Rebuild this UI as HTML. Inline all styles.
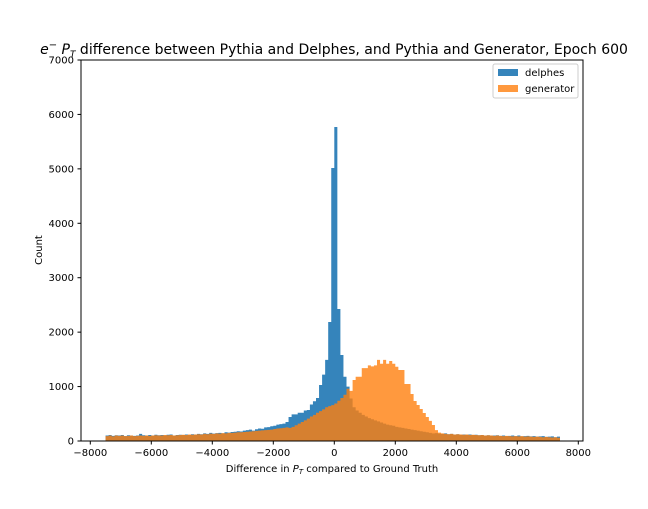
<!DOCTYPE html>
<html><head><meta charset="utf-8"><style>
body{margin:0;background:#fff;}
svg text{font-family:"DejaVu Sans","Liberation Sans",sans-serif;fill:#000;}
</style></head><body>
<svg id="chart" width="648" height="504" xmlns="http://www.w3.org/2000/svg">
<rect width="648" height="504" fill="#fff"/>
<text x="334" y="54" font-size="14" text-anchor="middle"><tspan font-style="italic">e</tspan><tspan font-size="10" dy="-6">−</tspan><tspan dy="6" font-style="italic"> P</tspan><tspan font-size="9" font-style="italic" dy="3">T</tspan><tspan dy="-3"> difference between Pythia and Delphes, and Pythia and Generator, Epoch 600</tspan></text>
<g id="bars"></g>
<rect x="81" y="60" width="502" height="381" fill="none" stroke="#000" stroke-width="1"/>
<g id="axes"></g>
<text x="332" y="472" font-size="10" text-anchor="middle">Difference in <tspan font-style="italic">P</tspan><tspan font-size="7" font-style="italic" dy="2">T</tspan><tspan dy="-2"> compared to Ground Truth</tspan></text>
<text transform="translate(42,250) rotate(-90)" font-size="10" text-anchor="middle">Count</text>
<g>
<rect x="493" y="64" width="85" height="34" fill="#fff" stroke="#ccc" rx="2"/>
<rect x="498" y="69" width="20" height="7" fill="#1f77b4" fill-opacity="0.9"/>
<text x="525" y="76" font-size="10">delphes</text>
<rect x="498" y="85" width="20" height="7" fill="#ff7f0e" fill-opacity="0.8"/>
<text x="525" y="92" font-size="10">generator</text>
</g>
</svg>
<script>
const binStart = -7500;
const binWidth = 100;
const delphes = [100,110,95,105,100,110,90,105,100,95,100,130,105,100,110,
100,115,105,110,100,115,120,100,110,115,110,120,110,125,120,
130,125,140,130,150,135,145,150,140,160,155,165,170,180,175,
190,200,210,190,215,230,225,250,255,270,280,300,310,320,350,
440,490,490,520,520,560,570,670,730,790,1030,1220,1490,2186,5015,
5770,2425,1580,1180,1000,780,620,560,520,480,450,420,400,380,360,
340,320,300,290,280,260,250,240,230,220,210,200,190,180,170,
160,150,140,145,135,130,140,125,130,120,125,115,120,115,120,
110,115,105,110,100,105,100,100,105,95,100,90,95,100,90,
100,85,90,95,85,90,80,85,90,75,80,85,70,80];
const generator = [90,100,85,100,95,100,90,95,100,90,95,100,95,100,95,
100,105,100,100,110,105,110,100,105,110,115,110,120,115,120,
125,120,130,125,135,130,140,135,145,140,150,150,155,160,160,
165,170,175,180,185,190,195,200,205,210,220,230,235,240,250,
240,260,290,320,350,380,410,450,480,520,550,580,620,640,660,
690,740,790,850,960,920,1120,1180,1180,1340,1340,1390,1370,1390,1490,
1420,1490,1420,1470,1420,1365,1304,1304,1047,1047,863,735,661,588,514,
440,370,294,200,153,140,130,125,130,120,125,120,115,120,110,
115,110,105,110,100,105,100,95,100,95,90,95,90,85,90,
85,90,80,85,80,75,80,75,70,75,70,65,70,60];
const xTicks = [-8000,-6000,-4000,-2000,0,2000,4000,6000,8000];
const yTicks = [0,1000,2000,3000,4000,5000,6000,7000];

const NS="http://www.w3.org/2000/svg";
const X = v => 334.3 + v*0.0305;
const Y = v => 441 - v*(381/7000);
const bars=document.getElementById('bars');
function series(arr,color,op,name){
  let d='M'+X(binStart)+' 441';
  arr.forEach((v,i)=>{
    const x0=X(binStart+i*binWidth), x1=X(binStart+(i+1)*binWidth);
    d+=' L'+x0+' '+Y(v)+' L'+x1+' '+Y(v);
  });
  d+=' L'+X(binStart+arr.length*binWidth)+' 441 Z';
  const p=document.createElementNS(NS,'path');
  p.setAttribute('d',d);
  p.setAttribute('fill',color);p.setAttribute('fill-opacity',op);
  
  
  bars.appendChild(p);
}
series(delphes,'#1f77b4',0.9,'delphes');
series(generator,'#ff7f0e',0.8,'generator');
const ax=document.getElementById('axes');
xTicks.forEach(t=>{
  const x=X(t);
  const l=document.createElementNS(NS,'line');
  l.setAttribute('x1',x);l.setAttribute('x2',x);l.setAttribute('y1',441);l.setAttribute('y2',444.5);l.setAttribute('stroke','#000');
  
  
  ax.appendChild(l);
  const tx=document.createElementNS(NS,'text');
  tx.setAttribute('x',x);tx.setAttribute('y',456);tx.setAttribute('font-size','10');tx.setAttribute('text-anchor','middle');
  tx.textContent=(t<0?'−':'')+Math.abs(t);
  
  
  ax.appendChild(tx);
});
yTicks.forEach(t=>{
  const y=Y(t);
  const l=document.createElementNS(NS,'line');
  l.setAttribute('x1',77.5);l.setAttribute('x2',81);l.setAttribute('y1',y);l.setAttribute('y2',y);l.setAttribute('stroke','#000');
  
  
  ax.appendChild(l);
  const tx=document.createElementNS(NS,'text');
  tx.setAttribute('x',74);tx.setAttribute('y',y+3.5);tx.setAttribute('font-size','10');tx.setAttribute('text-anchor','end');
  tx.textContent=t;
  
  
  ax.appendChild(tx);
});
</script>
</body></html>
